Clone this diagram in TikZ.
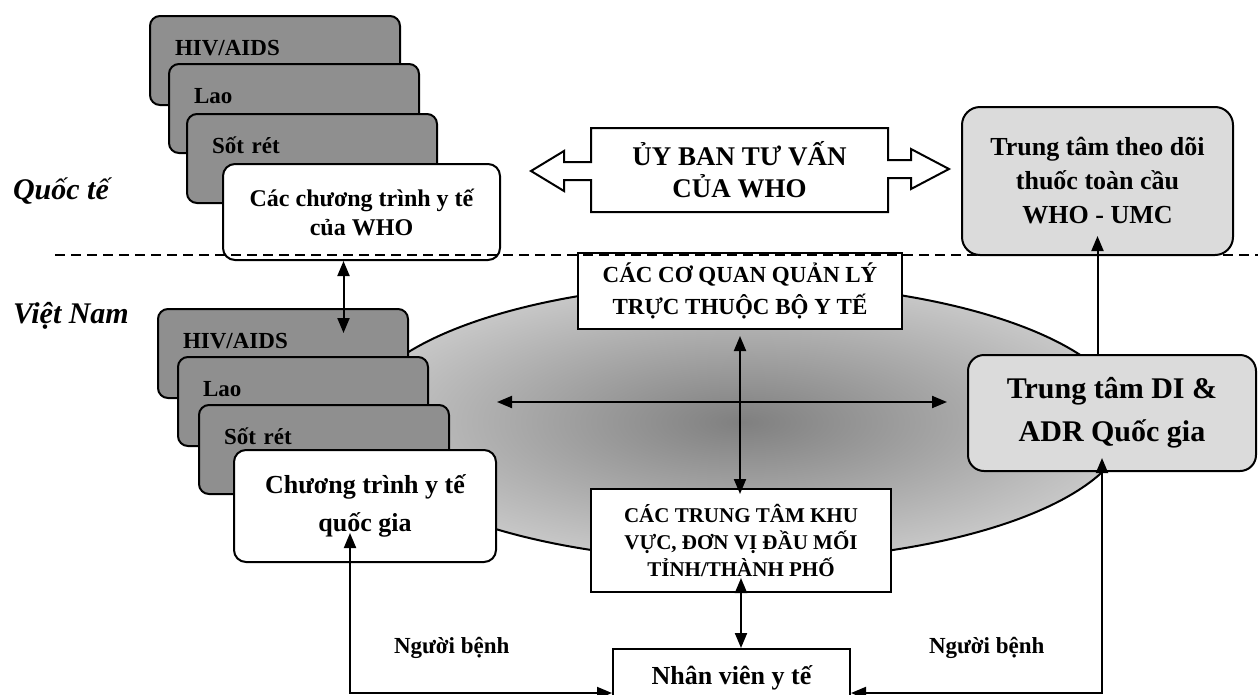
\documentclass[tikz,border=0pt]{standalone}
\usepackage{fontspec}
\setmainfont{Liberation Serif}
\usetikzlibrary{arrows.meta,shapes.geometric}
\definecolor{tabgray}{gray}{0.56}
\definecolor{boxgray}{gray}{0.86}

\begin{document}
\begin{tikzpicture}
[x=1pt, y=-1pt, draw=black, line width=2pt, >={Triangle[length=15pt,width=12pt]},
tab/.style={draw, rounded corners=10pt, fill=tabgray, anchor=north west, align=left, inner xsep=25pt, inner ysep=0pt, text width=200pt, text height=39pt, text depth=50pt, font=\bfseries\fontsize{23}{27}\selectfont},
prog/.style={draw, rounded corners=12pt, fill=white, align=center, inner sep=0pt},
office/.style={draw, fill=white, align=center, inner sep=0pt},
centre/.style={draw, rounded corners=16pt, fill=boxgray, align=center, inner sep=0pt},
region/.style={anchor=base west, inner sep=0pt, font=\bfseries\itshape\fontsize{30}{34}\selectfont},
patient/.style={anchor=base west, inner sep=0pt, font=\bfseries\fontsize{23}{27}\selectfont}]

\useasboundingbox (0,0) rectangle (1258,694);

% ellipse behind the national level
\node[ellipse, draw, inner color=black!50, outer color=black!22, minimum width=772pt, minimum height=278pt] (hub) at (742,422) {};

% international programmes
\node[tab] (wHIV) at (149,15) {HIV/AIDS};
\node[tab] (wLao) at (168,63) {Lao};
\node[tab] (wSR) at (186,113) {Sốt rét};
\node[prog, minimum width=277pt, minimum height=96pt, font=\bfseries\fontsize{24}{29}\selectfont] (wprog) at (361.5,212) {Các chương trình y tế\\của WHO};

% national programmes
\node[tab] (vHIV) at (157,308) {HIV/AIDS};
\node[tab] (vLao) at (177,356) {Lao};
\node[tab] (vSR) at (198,404) {Sốt rét};
\node[prog, minimum width=262pt, minimum height=112pt, font=\bfseries\fontsize{26}{38}\selectfont] (vprog) at (365,506) {Chương trình y tế\\quốc gia};

% advisory committee arrow
\node[minimum width=295pt, minimum height=82pt, align=center, inner sep=0pt, font=\bfseries\fontsize{27}{32}\selectfont] (tuvan) at (739.5,170) {ỦY BAN TƯ VẤN\\CỦA WHO};
\draw (tuvan.north west) -- (tuvan.north east) -- ++(0,32) -- ++(23,0) -- ++(0,-11) -- ++(38,20) -- ++(-38,20) -- ++(0,-11) -- ++(-23,0)
  -- (tuvan.south east) -- (tuvan.south west) -- ++(0,-32) -- ++(-27,0) -- ++(0,11) -- ++(-33,-20) -- ++(33,-20) -- ++(0,11) -- ++(27,0) -- cycle;

\node[centre, rounded corners=18pt, minimum width=271pt, minimum height=148pt, font=\bfseries\fontsize{26}{34}\selectfont] (umc) at (1097.5,181) {Trung tâm theo dõi\\thuốc toàn cầu\\WHO - UMC};

\node[centre, minimum width=288pt, minimum height=116pt, font=\bfseries\fontsize{30}{43}\selectfont] (di) at (1112,413) {Trung tâm DI \&\\ADR Quốc gia};

\node[office, minimum width=324pt, minimum height=76pt, font=\bfseries\fontsize{23}{32}\selectfont] (qlbyt) at (740,291) {CÁC CƠ QUAN QUẢN LÝ\\TRỰC THUỘC BỘ Y TẾ};
\node[office, minimum width=300pt, minimum height=103pt, font=\bfseries\fontsize{21}{27}\selectfont] (ttkv) at (741,540.5) {CÁC TRUNG TÂM KHU\\VỰC, ĐƠN VỊ ĐẦU MỐI\\TỈNH/THÀNH PHỐ};
\node[office, anchor=north, minimum width=237pt, inner ysep=0pt, text height=35pt, text depth=53pt, font=\bfseries\fontsize{26}{30}\selectfont] (nv) at (731.5,648) {Nhân viên y tế};

% border between the two levels
\draw[dash pattern=on 10pt off 6pt] (55,255) -- (1258,255);

\node[region] (qt) at (12,199) {Quốc tế};
\node[region] (vn) at (12,323) {Việt Nam};
\node[patient] (nb1) at (393,653) {Người bệnh};
\node[patient] (nb2) at (928,653) {Người bệnh};

% connectors
\coordinate (hl) at (497,402);
\coordinate (hr) at (947,402);
\draw[<->] (hl) -- (hr);
\draw[<->, shorten >=-25pt] ([xshift=-18pt]wprog.south) -- ([xshift=-18pt]wprog.south |- vHIV.north);
\draw[->, shorten >=-20pt] (umc.south |- di.north) -- (umc.south);
\draw[<->] ([yshift=-6pt]qlbyt.south) -- ([yshift=-6pt]qlbyt.south |- ttkv.north);
\draw[<->, shorten <=-15pt] (ttkv.south) -- (ttkv.south |- nv.north);
\draw[<->, shorten >=-30pt] (nv.west) -| ([xshift=-15pt]vprog.south);
\draw[<->, shorten >=-14pt] (nv.east) -| ([xshift=-10pt]di.south);

\end{tikzpicture}
\end{document}
